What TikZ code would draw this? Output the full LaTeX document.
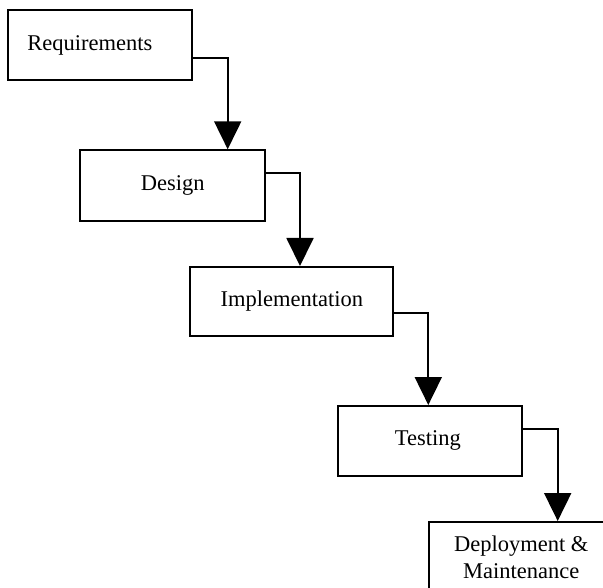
\documentclass[tikz,border=0pt]{standalone}
\usepackage{fontspec}
\setmainfont{Liberation Serif}
\usetikzlibrary{arrows.meta}
\begin{document}
\begin{tikzpicture}[x=1pt,y=-1pt,
  stage/.style={draw=black,line width=1.9pt,fill=white,anchor=north west,inner sep=0pt,
    minimum height=70pt,font=\fontsize{22.5}{27}\selectfont},
  flow/.style={draw=black,line width=1.9pt,-{Triangle[width=27pt,length=28pt]}}]
\clip (0,0) rectangle (603,588);
\fill[white] (0,0) rectangle (603,588);
\node[stage,minimum width=183.4pt] (req) at (7.3,9.3) {Requirements\hspace*{20pt}};
\node[stage,minimum width=185pt,minimum height=70.7pt] (des) at (79.3,149.3) {Design};
\node[stage,minimum width=203pt,minimum height=69pt] (imp) at (189.3,266) {Implementation};
\node[stage,minimum width=183.4pt] (tst) at (337.3,405) {Testing\hspace*{4pt}};
\node[stage,minimum width=184pt,align=center] (dep) at (428.3,521) {Deployment \&\\Maintenance};
\coordinate (c1) at (227.7,149.3);
\coordinate (c2) at (300,266);
\coordinate (c3) at (428.3,405);
\coordinate (c4) at (557.7,521);
\draw[flow] ([yshift=-12.4pt]req.east) -| (c1);
\draw[flow] ([yshift=12.4pt]des.east) -| (c2);
\draw[flow] ([yshift=-12pt]imp.east) -| (c3);
\draw[flow] ([yshift=12pt]tst.east) -| (c4);
\end{tikzpicture}
\end{document}
